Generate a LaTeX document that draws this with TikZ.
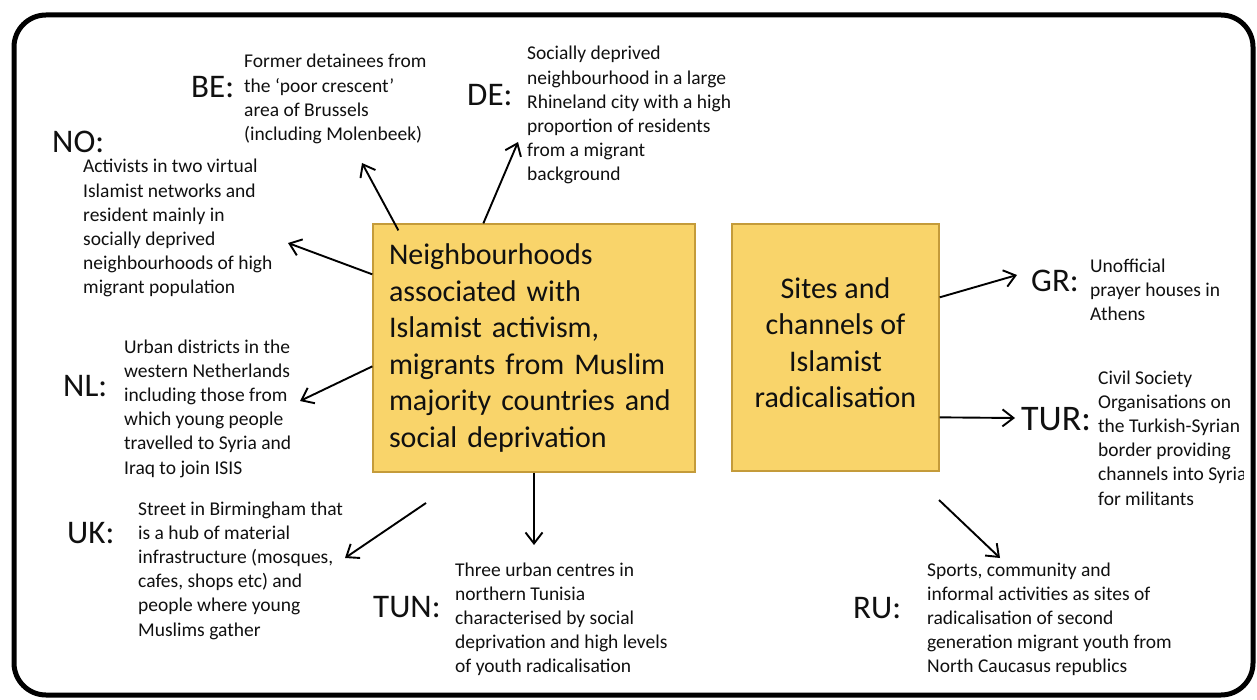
\documentclass[tikz,border=0pt]{standalone}
\usepackage{fontspec}
\setmainfont{Carlito}
\usetikzlibrary{arrows.meta,calc}
\definecolor{boxfill}{HTML}{F9D46A}
\definecolor{boxline}{HTML}{C49B3A}
\definecolor{txt}{HTML}{101010}
\begin{document}
\begin{tikzpicture}[x=1pt,y=-1pt,
  small/.style={font=\fontsize{19.5}{24.2}\selectfont, align=left, inner sep=0pt, anchor=base west, text=txt},
  cc/.style={font=\fontsize{33}{38}\selectfont, inner sep=0pt, anchor=base west, text=txt},
  bigcc/.style={cc, font=\fontsize{36}{40}\selectfont},
  mainbox/.style={draw=boxline, fill=boxfill, line width=1.3pt, inner ysep=0pt, text=txt,
                  font=\fontsize{30}{36.5}\selectfont},
  arr/.style={line width=1.9pt, -{Straight Barb[length=11pt,width=17pt,line width=1.9pt]}}
]
\useasboundingbox (0,0) rectangle (1257,700);
\fill[white] (0,0) rectangle (1257,700);
% outer frame
\draw[line width=5pt, rounded corners=32pt] (14,15) rectangle (1253,695);

% main boxes
\node[mainbox, minimum width=322pt, minimum height=248pt, text width=290pt, inner xsep=16pt, align=left]
  (b1) at (534,348) {Neighbourhoods\\associated with\\Islamist activism,\\migrants from Muslim\\majority countries and\\social deprivation};
\node[mainbox, minimum width=207pt, minimum height=247pt, align=center, text depth=10pt]
  (b2) at (835.5,347.5) {Sites and\\channels of\\Islamist\\radicalisation};

% country labels
\node[cc] (lbe) at (191,98) {BE:};
\node[cc] (lno) at (52,153) {NO:};
\node[cc] (lde) at (467,106) {DE:};
\node[cc] (lgr) at (1031,292) {GR:};
\node[bigcc] (ltur) at (1021,430) {TUR:};
\node[cc] (lnl) at (63,396) {NL:};
\node[cc] (luk) at (67,543) {UK:};
\node[cc] (ltun) at (373,617) {TUN:};
\node[cc] (lru) at (853,618) {RU:};

% descriptions (anchor = baseline of the last line)
\node[small] (tbe) at (244,140.6) {Former detainees from\\the ‘poor crescent’\\area of Brussels\\(including Molenbeek)};
\node[small] (tno) at (83,294) {Activists in two virtual\\Islamist networks and\\resident mainly in\\socially deprived\\neighbourhoods of high\\migrant population};
\node[small] (tde) at (527,181) {Socially deprived\\neighbourhood in a large\\Rhineland city with a high\\proportion of residents\\from a migrant\\background};
\node[small] (tgr) at (1090,320.4) {Unofficial\\prayer houses in\\Athens};
\begin{scope}
\clip (0,0) rectangle (1243,700);
\node[small] (ttur) at (1098,505) {Civil Society\\Organisations on\\the Turkish-Syrian\\border providing\\channels into Syria\\for militants};
\end{scope}
\node[small] (tnl) at (124,474) {Urban districts in the\\western Netherlands\\including those from\\which young people\\travelled to Syria and\\Iraq to join ISIS};
\node[small] (tuk) at (138,636) {Street in Birmingham that\\is a hub of material\\infrastructure (mosques,\\cafes, shops etc) and\\people where young\\Muslims gather};
\node[small] (ttun) at (455,672.8) {Three urban centres in\\northern Tunisia\\characterised by social\\deprivation and high levels\\of youth radicalisation};
\node[small] (tru) at (927,672.8) {Sports, community and\\informal activities as sites of\\radicalisation of second\\generation migrant youth from\\North Caucasus republics};

% arrow end points
\coordinate (bes) at ($(b1.north west)+(26,7)$);
\coordinate (bet) at (362,163);
\coordinate (des) at ($(b1.north west)+(111,0)$);
\coordinate (det) at (518,142);
\coordinate (nos) at ($(b1.north west)+(0,51)$);
\coordinate (not) at (288,243);
\coordinate (nls) at ($(b1.north west)+(0,143)$);
\coordinate (nlt) at (300,401);
\coordinate (uks) at (426,503);
\coordinate (ukt) at (345,558);
\coordinate (tunt) at (534,545);
\coordinate (grs) at ($(b2.north east)+(0,74)$);
\coordinate (grt) at (1017,275);
\coordinate (turs) at ($(b2.north east)+(0,194)$);
\coordinate (turt) at (1015,418);
\coordinate (rus) at (939,500);
\coordinate (rut) at (1000,558);

\draw[arr] (bes) -- (bet);
\draw[arr] (des) -- (det);
\draw[arr] (nos) -- (not);
\draw[arr] (nls) -- (nlt);
\draw[arr] (uks) -- (ukt);
\draw[arr] (b1.south) -- (tunt);
\draw[arr] (grs) -- (grt);
\draw[arr] (turs) -- (turt);
\draw[arr] (rus) -- (rut);
\end{tikzpicture}
\end{document}
